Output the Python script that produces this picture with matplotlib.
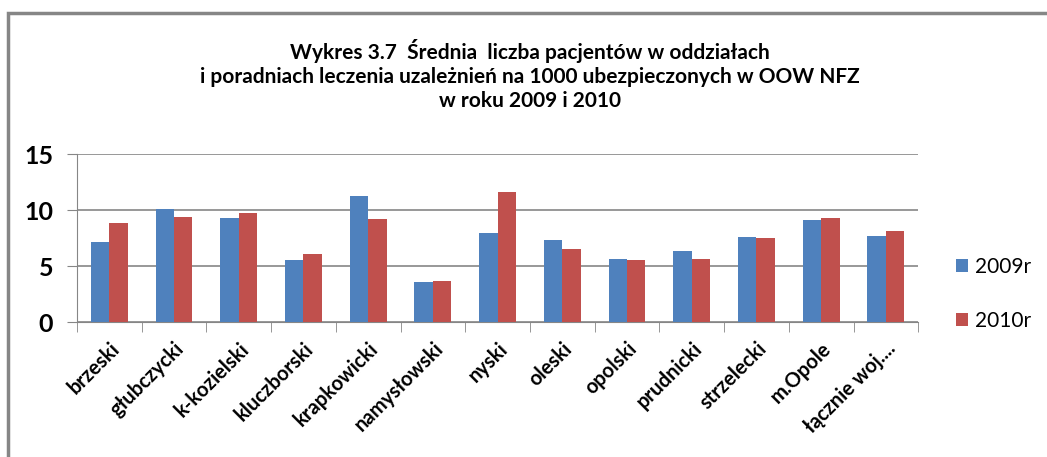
import numpy as np
import matplotlib.pyplot as plt
from matplotlib.patches import Rectangle

plt.rcParams['font.family'] = ['Lato', 'DejaVu Sans']

powiaty = ["brzeski", "głubczycki", "k-kozielski", "kluczborski", "krapkowicki",
           "namysłowski", "nyski", "oleski", "opolski", "prudnicki",
           "strzelecki", "m.Opole", "łącznie woj...."]
r2009 = [7.17, 10.12, 9.32, 5.57, 11.28, 3.60, 7.98, 7.35, 5.65, 6.37, 7.62, 9.14, 7.71]
r2010 = [8.87, 9.40, 9.76, 6.10, 9.23, 3.69, 11.64, 6.55, 5.57, 5.65, 7.53, 9.32, 8.15]

x = np.arange(len(powiaty))
w = 0.285   # width of one bar

fig = plt.figure(figsize=(10.47, 4.57), dpi=100)

ax = plt.axes([0.0735, 0.2954, 0.8035, 0.3676])
plt.bar(x - w/2, r2009, width=w, color="#4f81bd", label="2009r", zorder=3)
plt.bar(x + w/2, r2010, width=w, color="#c0504d", label="2010r", zorder=3)

plt.xlim(-0.5, len(powiaty) - 0.5)
plt.ylim(0, 15)
plt.yticks([0, 5, 10, 15], fontsize=18, fontweight="bold")
plt.xticks(x, powiaty, rotation=45, ha="right", rotation_mode="anchor",
           fontsize=14.5, fontweight="bold")
ax.set_xticks(np.arange(-0.5, len(powiaty)), minor=True)
ax.tick_params(axis="x", which="major", length=0, pad=12)
ax.tick_params(axis="x", which="minor", length=7, color="#868686", direction="out")
ax.tick_params(axis="y", length=7, color="#868686", pad=10)
plt.grid(True, axis="y", color="#868686", linewidth=1.2, zorder=0)
for s in ["top", "right"]:
    ax.spines[s].set_visible(False)
for s in ["left", "bottom"]:
    ax.spines[s].set_color("#868686")

plt.figtext(0.506, 0.836,
            "Wykres 3.7  Średnia  liczba pacjentów w oddziałach\n"
            "i poradniach leczenia uzależnień na 1000 ubezpieczonych w OOW NFZ\n"
            "w roku 2009 i 2010",
            ha="center", va="center", fontsize=15, fontweight="bold", linespacing=1.25)

fig.legend(loc="center left", bbox_to_anchor=(0.903, 0.357), frameon=False,
           fontsize=15, handlelength=0.6, handleheight=0.6, handletextpad=0.3,
           labelspacing=1.6, borderpad=0)

fig.patches.append(Rectangle((0.008, -0.05), 1.1, 1.0226, transform=fig.transFigure,
                             fill=False, edgecolor="#868686", linewidth=2.5))

plt.savefig("out.png")
